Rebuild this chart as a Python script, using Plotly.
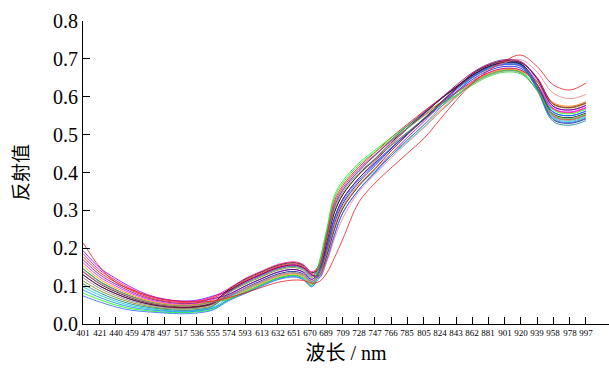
import plotly.graph_objects as go

# sample wavelengths (nm)
wavelength = [401, 421, 440, 459, 478, 497, 517, 536, 555, 574, 593, 613, 632, 651, 662, 672,
              681, 690, 699, 709, 728, 747, 766, 785, 805, 824, 843, 862, 881, 901, 920, 939,
              958, 978, 997]

# tick labels on the x axis
tick_labels = [401, 421, 440, 459, 478, 497, 517, 536, 555, 574, 593, 613, 632, 651, 670, 689,
               709, 728, 747, 766, 785, 805, 824, 843, 862, 881, 901, 920, 939, 958, 978, 997]

s01 = [0.130,0.100,0.080,0.064,0.053,0.046,0.043,0.045,0.054,0.078,0.100,0.120,0.137,0.144,0.137,0.118,0.140,0.205,0.280,0.330,0.385,0.425,0.465,0.502,0.540,0.577,0.612,0.645,0.668,0.680,0.675,0.630,0.560,0.550,0.562]
s02 = [0.162,0.124,0.100,0.080,0.065,0.056,0.052,0.054,0.064,0.086,0.110,0.130,0.147,0.154,0.147,0.128,0.152,0.229,0.310,0.354,0.405,0.445,0.486,0.523,0.560,0.594,0.626,0.655,0.678,0.690,0.685,0.641,0.570,0.560,0.572]
s03 = [0.098,0.076,0.060,0.048,0.041,0.036,0.034,0.036,0.044,0.070,0.090,0.110,0.127,0.134,0.127,0.108,0.128,0.181,0.250,0.306,0.365,0.405,0.444,0.481,0.520,0.560,0.598,0.635,0.658,0.670,0.665,0.616,0.545,0.535,0.547]
s04 = [0.178,0.136,0.110,0.088,0.071,0.061,0.057,0.059,0.069,0.090,0.115,0.135,0.152,0.159,0.152,0.133,0.158,0.241,0.325,0.366,0.415,0.453,0.492,0.527,0.562,0.594,0.623,0.650,0.673,0.685,0.680,0.627,0.550,0.540,0.552]
s05 = [0.114,0.088,0.070,0.056,0.047,0.041,0.039,0.041,0.049,0.082,0.105,0.125,0.142,0.149,0.142,0.123,0.146,0.217,0.295,0.342,0.395,0.433,0.471,0.506,0.542,0.577,0.609,0.640,0.663,0.675,0.670,0.640,0.580,0.570,0.582]
s06 = [0.146,0.112,0.090,0.072,0.059,0.051,0.048,0.050,0.059,0.074,0.095,0.115,0.132,0.139,0.132,0.113,0.134,0.193,0.265,0.318,0.375,0.418,0.462,0.502,0.542,0.582,0.620,0.655,0.678,0.690,0.685,0.623,0.540,0.530,0.542]
s07 = [0.082,0.064,0.050,0.040,0.035,0.031,0.030,0.032,0.039,0.066,0.085,0.105,0.122,0.129,0.122,0.103,0.164,0.253,0.340,0.378,0.425,0.459,0.492,0.523,0.556,0.584,0.610,0.635,0.658,0.670,0.665,0.628,0.565,0.555,0.567]
s08 = [0.194,0.148,0.120,0.096,0.077,0.066,0.061,0.063,0.074,0.088,0.112,0.132,0.149,0.156,0.149,0.130,0.122,0.169,0.235,0.294,0.355,0.401,0.449,0.492,0.534,0.579,0.621,0.660,0.683,0.695,0.690,0.647,0.575,0.565,0.577]
s09 = [0.106,0.082,0.065,0.052,0.044,0.039,0.036,0.038,0.047,0.084,0.108,0.128,0.145,0.152,0.145,0.126,0.152,0.229,0.310,0.354,0.405,0.445,0.485,0.522,0.558,0.592,0.624,0.653,0.676,0.688,0.683,0.619,0.535,0.525,0.537]
s10 = [0.154,0.118,0.095,0.076,0.062,0.054,0.050,0.052,0.062,0.068,0.088,0.108,0.125,0.132,0.125,0.106,0.131,0.187,0.258,0.312,0.370,0.410,0.449,0.486,0.525,0.564,0.601,0.637,0.660,0.672,0.667,0.641,0.585,0.575,0.587]
s11 = [0.138,0.106,0.085,0.068,0.056,0.049,0.045,0.047,0.057,0.092,0.118,0.138,0.155,0.162,0.155,0.136,0.146,0.217,0.295,0.342,0.395,0.436,0.479,0.517,0.556,0.592,0.626,0.657,0.680,0.692,0.687,0.633,0.555,0.545,0.557]
s12 = [0.090,0.070,0.055,0.044,0.038,0.034,0.032,0.034,0.042,0.064,0.082,0.102,0.119,0.126,0.119,0.100,0.122,0.169,0.235,0.294,0.355,0.399,0.444,0.485,0.526,0.570,0.611,0.650,0.673,0.685,0.680,0.633,0.560,0.550,0.562]
s13 = [0.170,0.130,0.105,0.084,0.068,0.059,0.054,0.056,0.067,0.078,0.100,0.120,0.137,0.144,0.137,0.118,0.140,0.205,0.280,0.330,0.385,0.429,0.474,0.515,0.554,0.593,0.630,0.663,0.686,0.698,0.693,0.648,0.575,0.565,0.577]
s14 = [0.122,0.094,0.075,0.060,0.050,0.044,0.041,0.043,0.052,0.072,0.092,0.112,0.129,0.136,0.129,0.110,0.149,0.223,0.303,0.348,0.400,0.436,0.471,0.504,0.539,0.572,0.603,0.633,0.656,0.668,0.663,0.617,0.548,0.538,0.550]
s15 = [0.186,0.142,0.115,0.092,0.074,0.064,0.059,0.061,0.072,0.094,0.120,0.140,0.157,0.164,0.157,0.138,0.155,0.235,0.318,0.360,0.410,0.447,0.483,0.516,0.551,0.583,0.612,0.640,0.663,0.675,0.670,0.632,0.568,0.558,0.570]
s16 = [0.074,0.058,0.045,0.036,0.032,0.029,0.027,0.029,0.037,0.062,0.080,0.100,0.117,0.124,0.117,0.098,0.137,0.199,0.273,0.324,0.380,0.422,0.464,0.503,0.542,0.580,0.617,0.651,0.674,0.686,0.681,0.622,0.542,0.532,0.544]
s17 = [0.130,0.100,0.080,0.064,0.053,0.046,0.043,0.045,0.054,0.088,0.112,0.132,0.149,0.156,0.149,0.130,0.128,0.181,0.250,0.306,0.365,0.410,0.457,0.499,0.540,0.583,0.623,0.660,0.683,0.695,0.690,0.651,0.582,0.572,0.584]
s18 = [0.146,0.112,0.090,0.072,0.059,0.051,0.048,0.050,0.059,0.065,0.084,0.104,0.121,0.128,0.121,0.102,0.161,0.247,0.333,0.372,0.420,0.454,0.486,0.516,0.549,0.578,0.604,0.630,0.653,0.665,0.660,0.618,0.552,0.542,0.554]
s19 = [0.140,0.108,0.088,0.070,0.058,0.050,0.047,0.049,0.058,0.076,0.094,0.112,0.128,0.134,0.130,0.115,0.125,0.165,0.225,0.280,0.350,0.395,0.438,0.478,0.518,0.560,0.600,0.640,0.672,0.690,0.698,0.665,0.610,0.595,0.606]
s20 = [0.215,0.150,0.110,0.090,0.075,0.065,0.060,0.058,0.060,0.070,0.082,0.097,0.110,0.116,0.115,0.108,0.112,0.135,0.175,0.225,0.322,0.372,0.412,0.450,0.490,0.540,0.590,0.635,0.668,0.695,0.710,0.680,0.632,0.618,0.636]

series = [s01, s02, s03, s04, s05, s06, s07, s08, s09, s10, s11, s12, s13, s14, s15, s16, s17, s18, s19, s20]
colors = ['#0000FF', '#FF00FF', '#00C8C8', '#FF0000', '#808000', '#000080', '#00FF00', '#8000FF',
          '#008080', '#FF8000', '#000000', '#0080FF', '#800080', '#808080', '#FF0080', '#3366FF',
          '#800000', '#33CC33', '#F08080', '#E02020']

fig = go.Figure()
for s, c in zip(series, colors):
    fig.add_trace(go.Scatter(x=wavelength, y=s, mode='lines',
                             line=dict(color=c, width=0.8, shape='spline'),
                             showlegend=False, hoverinfo='skip'))

serif = 'Liberation Serif, Times New Roman, Noto Sans CJK SC'
fig.update_layout(
    width=609, height=369,
    margin=dict(l=83, r=0, t=21, b=45),
    paper_bgcolor='white', plot_bgcolor='white',
    font=dict(family=serif, color='black'),
    xaxis=dict(range=[401, 1024.3], tickmode='array', tickvals=tick_labels,
               ticktext=[str(t) for t in tick_labels],
               ticks='inside', ticklen=7, tickwidth=1, tickcolor='black',
               showline=True, linecolor='black', linewidth=1, showgrid=False, zeroline=False,
               tickfont=dict(size=9, family=serif, color='black'), tickangle=0,
               title=dict(text='波长 / nm', font=dict(size=20, family=serif), standoff=9)),
    yaxis=dict(range=[0, 0.8], tickvals=[0, 0.1, 0.2, 0.3, 0.4, 0.5, 0.6, 0.7, 0.8],
               tickformat='.1f', ticks='inside', ticklen=7, tickwidth=1, tickcolor='black',
               showline=True, linecolor='black', linewidth=1, showgrid=False, zeroline=False,
               tickfont=dict(size=20, family=serif, color='black'),
               title=dict(text='反射值', font=dict(size=19, family=serif), standoff=19)),
)

fig.write_html('out.html')
